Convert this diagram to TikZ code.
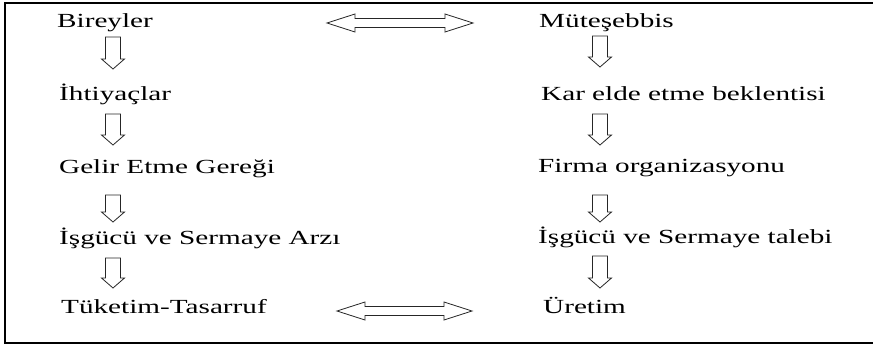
\documentclass[tikz,border=0pt]{standalone}
\usepackage{fontspec}
\usetikzlibrary{calc}
\newfontfamily\txtfont[FakeStretch=1.46]{Liberation Serif}

\tikzset{
  lbl/.style={anchor=base west, inner sep=0pt, font=\txtfont\fontsize{20}{24}\selectfont},
  % hollow block arrow pointing down, from start (top of shaft) to target (tip)
  downblock/.style={draw=black!85, line width=0.8pt, line join=miter,
    to path={
      ($(\tikztostart)+(-7.5,0)$) -- ($(\tikztotarget)+(-7.5,-10)$)
      -- ($(\tikztotarget)+(-11.5,-10)$) -- (\tikztotarget)
      -- ($(\tikztotarget)+(11.5,-10)$) -- ($(\tikztotarget)+(7.5,-10)$)
      -- ($(\tikztostart)+(7.5,0)$) -- cycle}},
  % hollow two-headed block arrow, from left tip to right tip
  lrblock/.style={draw=black!85, line width=0.8pt, line join=miter,
    to path={
      (\tikztostart) -- ($(\tikztostart)+(28,-9)$) -- ($(\tikztostart)+(28,-4.5)$)
      -- ($(\tikztotarget)+(-28,-4.5)$) -- ($(\tikztotarget)+(-28,-9)$)
      -- (\tikztotarget)
      -- ($(\tikztotarget)+(-28,9)$) -- ($(\tikztotarget)+(-28,4.5)$)
      -- ($(\tikztostart)+(28,4.5)$) -- ($(\tikztostart)+(28,9)$) -- cycle}},
  frame/.style={draw=black, line width=1.5pt}
}

\begin{document}
\begin{tikzpicture}[x=1pt,y=-1pt]
\useasboundingbox (0,0) rectangle (873,345);
\fill[white] (0,0) rectangle (873,345);

% open frame (no right side)
\draw[frame] (873,3) -- (5,3) -- (5,343) -- (873,343);

% household side
\node[lbl] (b1) at (57,28)  {Bireyler};
\node[lbl] (b2) at (59,100) {İhtiyaçlar};
\node[lbl] (b3) at (59,173) {Gelir Etme Gereği};
\node[lbl] (b4) at (59,244) {İşgücü ve Sermaye Arzı};
\node[lbl] (b5) at (61,313) {Tüketim-Tasarruf};

% entrepreneur side
\node[lbl] (m1) at (539,28)  {Müteşebbis};
\node[lbl] (m2) at (541,100) {Kar elde etme beklentisi};
\node[lbl] (m3) at (538,172) {Firma organizasyonu};
\node[lbl] (m4) at (538,243) {İşgücü ve Sermaye talebi};
\node[lbl] (m5) at (543,313) {Üretim};

% arrow end points
\coordinate (la1) at (113,37);  \coordinate (lb1) at (113,69);
\coordinate (la2) at (113,114); \coordinate (lb2) at (113,145);
\coordinate (la3) at (113,195); \coordinate (lb3) at (113,222);
\coordinate (la4) at (113,258); \coordinate (lb4) at (113,288);

\coordinate (ra1) at (600,36);  \coordinate (rb1) at (600,67);
\coordinate (ra2) at (600,114); \coordinate (rb2) at (600,145);
\coordinate (ra3) at (600,195); \coordinate (rb3) at (600,222);
\coordinate (ra4) at (600,256); \coordinate (rb4) at (600,288);

\coordinate (ht1) at (327,23);  \coordinate (ht2) at (473,23);
\coordinate (hb1) at (337,311); \coordinate (hb2) at (472,311);

% vertical flow arrows
\foreach \a/\b in {la1/lb1, la2/lb2, la3/lb3, la4/lb4, ra1/rb1, ra2/rb2, ra3/rb3, ra4/rb4}
  \draw[downblock] (\a) to (\b);

% two-way links between the sides
\draw[lrblock] (ht1) to (ht2);
\draw[lrblock] (hb1) to (hb2);
\end{tikzpicture}
\end{document}
